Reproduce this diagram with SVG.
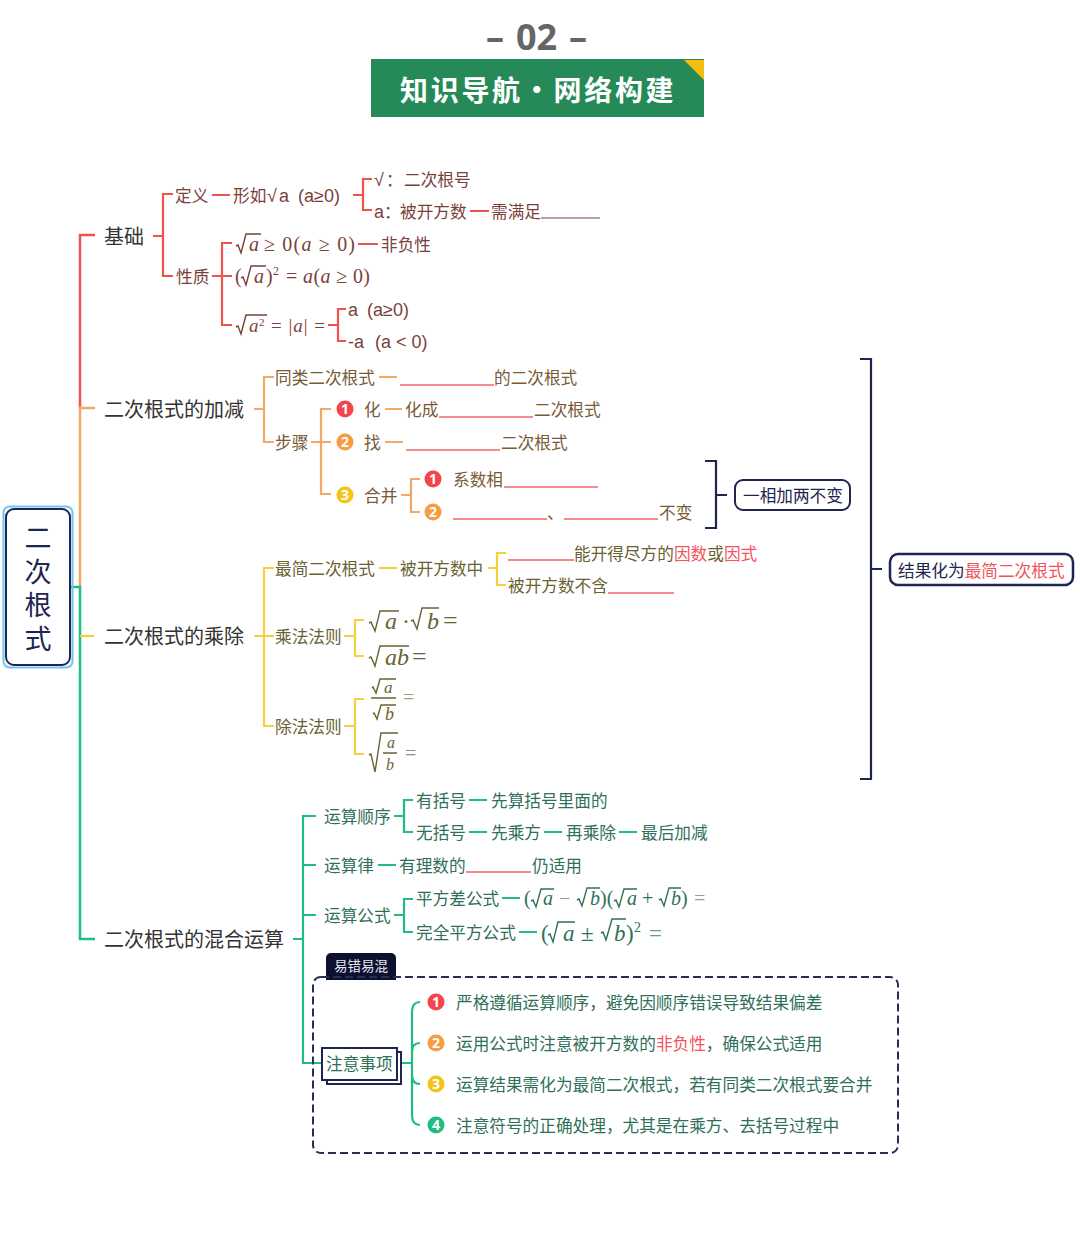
<svg xmlns="http://www.w3.org/2000/svg" width="1080" height="1246" viewBox="0 0 1080 1246">
<style>
text{font-family:"Liberation Sans","Noto Sans CJK SC",sans-serif;font-size:16.67px;transform:translate(0,.5px)}
.m{font-size:20px;fill:#333}
.la{font-size:18px}
.tr{fill:#7b3f3a}.to{fill:#7a5a36}.ty{fill:#696333}.tg{fill:#2f7058}.td{fill:#1d2550}.tx{fill:#f2545b}
.lr,.lo,.ly,.lg,.ld{fill:none;stroke-width:2.200}
.lr{stroke:#f0524c}.lo{stroke:#f4a868}.ly{stroke:#f5cf3c}.lg{stroke:#1fbd82}.ld{stroke:#1d2550}
.ul{stroke:#f2636a;stroke-width:1.400;fill:none}
.sr{fill:none;stroke-width:1.400}
.si{font-family:"Liberation Serif",serif;font-style:italic}
.s{font-family:"Liberation Serif",serif}
.b{font-family:"Noto Sans",sans-serif;font-size:14px;font-weight:700;fill:#fff;text-anchor:middle}
</style>
<rect width="1080" height="1246" fill="#fff"/>
<g id="title">
<text y="49" style="font-family:'Noto Sans',sans-serif;font-size:36px;font-weight:700" fill="#666"><tspan x="486">–</tspan><tspan x="516">02</tspan><tspan x="569">–</tspan></text>
<rect x="371" y="59" width="333" height="58" fill="#258a58"/>
<polygon points="684,60 704,60 704,80" fill="#f7bd0e"/>
<text x="400" y="100" style="font-family:'Noto Sans CJK SC',sans-serif;font-size:28px;font-weight:700;letter-spacing:2.700px" fill="#fff">知识导航·网络构建</text>
</g>
<g id="connectors">
<path class="lr" d="M95 235H80V408" style="stroke-width:2.500"/>
<path class="lo" d="M95 408H80V587" style="stroke-width:2.500"/>
<path class="lg" d="M70 587H80V939H95" style="stroke-width:2.500"/>
<path class="ly" d="M80 636H94"/>
<path class="lr" d="M153 236H163M173 194H163V276H173M212 195H230M353 195H363M372 179H363V210H372M470 211H489M212 276H232M232 243H222V325H232M358 244H378M328 325H338M346 309H338V341H346"/>
<path class="lo" d="M254 409H264M274 377H264V442H274M379 377H397M311 442H331M331 409H321V494H331M385 409H402M385 442H403M401 495H411M420 479H411V512H420"/>
<path class="ld" d="M705 461H716V528H705M716 495H727M860 359H871V779H860M871 569H882"/>
<path class="ly" d="M254 636H274M274 568H264V726H274M379 568H397M488 568H497M506 553H497V585H506M344 636H355M364 620H355V656H364M344 726H355M364 699H355V754H364"/>
<path class="lg" d="M293 939H303M316 816H303V1063H322M303 865H316M303 915H316M394 816H404M413 800H404V832H413M469 800H487M469 832H487M544 832H562M619 832H637M378 865H396M394 915H404M413 899H404V932H413M502 898H520M519 932H537"/>
<path class="lg" d="M401 1063H412M420 1002Q412 1002 412 1012V1115Q412 1125 420 1125M412 1052Q412 1043 420 1043M412 1075Q412 1084 420 1084"/>
</g>
<g id="root">
<rect x="3.500" y="506.500" width="69" height="161" rx="6" fill="none" stroke="#6cc5f2" stroke-width="2"/>
<rect x="6" y="509" width="64" height="156" rx="8" fill="#fff" stroke="#1d2550" stroke-width="2"/>
<text class="td" text-anchor="middle" style="font-size:27px"><tspan x="38" y="547">二</tspan><tspan x="38" y="581">次</tspan><tspan x="38" y="614">根</tspan><tspan x="38" y="648">式</tspan></text>
</g>
<g id="n-jichu"><text class="m" x="104" y="243">基础</text></g>
<g id="n-jiajian"><text class="m" x="104" y="416">二次根式的加减</text></g>
<g id="n-chengfa"><text class="m" x="104" y="643">二次根式的乘除</text></g>
<g id="n-hunhe"><text class="m" x="104" y="946">二次根式的混合运算</text></g>
<g id="basic">
<g id="n-dingyi"><text class="tr" x="175" y="201">定义</text></g>
<g id="n-xingru"><text class="tr" x="233" y="201">形如<tspan class="la" x="267">√</tspan><tspan class="la" x="279">a</tspan><tspan class="la" x="298">(a≥0)</tspan></text></g>
<g id="n-genhao"><text class="tr" x="374" y="185"><tspan class="la">√</tspan><tspan x="386">：</tspan><tspan x="404">二次根号</tspan></text></g>
<g id="n-beikai"><text class="tr" x="374" y="217"><tspan class="la">a</tspan><tspan x="384">：</tspan><tspan x="400">被开方数</tspan></text></g>
<g id="n-xuman"><text class="tr" x="491" y="217">需满足</text><path d="M541 218H600" stroke="#7b3f3a" stroke-width="1.200"/></g>
<g id="n-xingzhi"><text class="tr" x="176" y="282">性质</text></g>
<g id="f1"><path class="sr" stroke="#7b3f3a" d="M236 246l2-1 3 8 5-19H261"/><text class="si tr" x="249" y="250" style="font-size:20px">a</text><text class="s tr" x="264" y="250" style="font-size:20px" textLength="91" lengthAdjust="spacing">≥ 0(<tspan class="si">a</tspan> ≥ 0)</text></g>
<g id="n-feifu"><text class="tr" x="381" y="250">非负性</text></g>
<g id="f2"><text class="s tr" x="235" y="282" style="font-size:20px">(</text><path class="sr" stroke="#7b3f3a" d="M241 278l2-1 3 8 5-19H266"/><text class="si tr" x="254" y="282" style="font-size:20px">a</text><text class="s tr" x="266" y="282" style="font-size:20px">)</text><text class="s tr" x="273" y="274" style="font-size:12px">2</text><text class="s tr" x="286" y="282" style="font-size:20px" textLength="84" lengthAdjust="spacing">= <tspan class="si">a</tspan>(<tspan class="si">a</tspan> ≥ 0)</text></g>
<g id="f3"><path class="sr" stroke="#7b3f3a" d="M236 327l2-1 3 8 5-19H267"/><text class="si tr" x="249" y="331" style="font-size:19px">a</text><text class="s tr" x="259" y="325" style="font-size:11px">2</text><text class="s tr" x="271" y="331" style="font-size:19px" textLength="54" lengthAdjust="spacing">= |<tspan class="si">a</tspan>| =</text></g>
<g id="n-a1"><text class="tr la" x="348" y="315">a<tspan x="367">(a≥0)</tspan></text></g>
<g id="n-a2"><text class="tr la" x="348" y="347">-a<tspan x="375">(a &lt; 0)</tspan></text></g>
</g>
<g id="add">
<g id="n-tonglei"><text class="to" x="275" y="383">同类二次根式</text></g>
<g id="n-de"><path class="ul" d="M400 385H494"/><text class="to" x="494" y="383">的二次根式</text></g>
<g id="n-buzhou"><text class="to" x="275" y="448">步骤</text></g>
<g id="b1"><circle cx="345" cy="409" r="8.500" fill="#f4444c"/><text class="b" x="345" y="413.500">1</text></g>
<g id="n-hua"><text class="to" x="364" y="415">化</text></g>
<g id="n-huacheng"><text class="to" x="405" y="415">化成</text><path class="ul" d="M439 417H533"/><text class="to" x="534" y="415">二次根式</text></g>
<g id="b2"><circle cx="345" cy="442" r="8.500" fill="#f79c42"/><text class="b" x="345" y="446.500">2</text></g>
<g id="n-zhao"><text class="to" x="364" y="448">找</text></g>
<g id="n-zhao2"><path class="ul" d="M406 450H500"/><text class="to" x="501" y="448">二次根式</text></g>
<g id="b3"><circle cx="345" cy="495" r="8.500" fill="#f2c51a"/><text class="b" x="345" y="499.500">3</text></g>
<g id="n-hebing"><text class="to" x="364" y="501">合并</text></g>
<g id="b4"><circle cx="433" cy="479" r="8.500" fill="#f4444c"/><text class="b" x="433" y="483.500">1</text></g>
<g id="n-xishu"><text class="to" x="453" y="485">系数相</text><path class="ul" d="M504 487H598"/></g>
<g id="b5"><circle cx="433" cy="512" r="8.500" fill="#f79c42"/><text class="b" x="433" y="516.500">2</text></g>
<g id="n-bubian"><path class="ul" d="M453 519H547M564 519H658"/><text class="to" x="547" y="518">、</text><text class="to" x="659" y="518">不变</text></g>
<g id="n-yixiang"><rect x="735" y="480" width="115" height="30" rx="8" fill="#fff" stroke="#1d2550" stroke-width="2"/><text class="td" x="743" y="501">一相加两不变</text></g>
<g id="n-jieguo"><rect x="890" y="554" width="183" height="31" rx="8" fill="#fff" stroke="#1d2550" stroke-width="2.500"/><text class="td" x="898" y="576">结果化为<tspan class="tx">最简二次根式</tspan></text></g>
</g>
<g id="mul">
<g id="n-zuijian"><text class="ty" x="275" y="574">最简二次根式</text></g>
<g id="n-beikai2"><text class="ty" x="400" y="574">被开方数中</text></g>
<g id="n-nengkai"><path class="ul" d="M508 560H574"/><text class="ty" x="574" y="559">能开得尽方的<tspan class="tx">因数</tspan>或<tspan class="tx">因式</tspan></text></g>
<g id="n-buhan"><text class="ty" x="508" y="591">被开方数不含</text><path class="ul" d="M608 593H674"/></g>
<g id="n-chengze"><text class="ty" x="275" y="642">乘法法则</text></g>
<g id="n-chuze"><text class="ty" x="275" y="732">除法法则</text></g>
<g id="f4"><path class="sr" stroke="#696333" d="M369 623l2-1 4 9 5-20H399M411 621l2-1 4 9 5-21H439"/><text class="si ty" x="385" y="628" style="font-size:24px">a</text><text class="s ty" x="402" y="628" style="font-size:24px">·</text><text class="si ty" x="427" y="628" style="font-size:24px">b</text><text class="s ty" x="443" y="628" style="font-size:26px">=</text></g>
<g id="f5"><path class="sr" stroke="#696333" d="M369 658l2-1 4 9 5-20H409"/><text class="si ty" x="385" y="664" style="font-size:24px">ab</text><text class="s ty" x="412" y="664" style="font-size:26px">=</text></g>
<g id="f6"><path class="sr" stroke="#696333" d="M372 688l1-1 3 6 4-14H396M373 714l1-1 3 6 4-14H396M371 698H396"/><text class="si ty" x="384" y="692" style="font-size:17px">a</text><text class="si ty" x="385" y="719" style="font-size:18px">b</text><text class="s ty" x="403" y="703" style="font-size:20px;opacity:.6">=</text></g>
<g id="f7"><path class="sr" stroke="#696333" d="M369 755l2-1 4 18 6-39H398M383 753H397"/><text class="si ty" x="387" y="747" style="font-size:16px">a</text><text class="si ty" x="386" y="769" style="font-size:16px">b</text><text class="s ty" x="405" y="759" style="font-size:20px;opacity:.7">=</text></g>
</g>
<g id="mix">
<g id="n-shunxu"><text class="tg" x="324" y="822">运算顺序</text></g>
<g id="n-youkh"><text class="tg" x="416" y="806">有括号</text></g>
<g id="n-xiansuan"><text class="tg" x="491" y="806">先算括号里面的</text></g>
<g id="n-wukh"><text class="tg" x="416" y="838">无括号</text></g>
<g id="n-xiancheng"><text class="tg" x="491" y="838">先乘方</text></g>
<g id="n-zaicheng"><text class="tg" x="566" y="838">再乘除</text></g>
<g id="n-zuihou"><text class="tg" x="641" y="838">最后加减</text></g>
<g id="n-yunsuanlv"><text class="tg" x="324" y="871">运算律</text></g>
<g id="n-youli"><text class="tg" x="399" y="871">有理数的</text><path class="ul" d="M466 872H531"/><text class="tg" x="532" y="871">仍适用</text></g>
<g id="n-gongshi"><text class="tg" x="324" y="921">运算公式</text></g>
<g id="n-pingfangcha"><text class="tg" x="416" y="904">平方差公式</text></g>
<g id="f8"><path class="sr" stroke="#2f7058" d="M531 901l2-1 3 7 5-18H554M577 900l2-1 3 7 5-18H600M614 901l2-1 3 7 5-18H637M659 900l2-1 3 7 5-18H681"/><text class="s tg" x="524" y="904" style="font-size:20px">(</text><text class="si tg" x="543" y="904" style="font-size:20px">a</text><text class="s tg" x="559" y="904" style="font-size:20px;opacity:.6">−</text><text class="si tg" x="590" y="904" style="font-size:20px">b</text><text class="s tg" x="600" y="904" style="font-size:20px">)(</text><text class="si tg" x="627" y="904" style="font-size:20px">a</text><text class="s tg" x="642" y="904" style="font-size:20px">+</text><text class="si tg" x="671" y="904" style="font-size:20px">b</text><text class="s tg" x="681" y="904" style="font-size:20px">)</text><text class="s tg" x="694" y="904" style="font-size:20px;opacity:.6">=</text></g>
<g id="n-wanquan"><text class="tg" x="416" y="938">完全平方公式</text></g>
<g id="f9"><path class="sr" stroke="#2f7058" d="M548 935l2-1 3 8 5-20H575M601 933l2-1 3 8 6-21H626"/><text class="s tg" x="541" y="940" style="font-size:23px">(</text><text class="si tg" x="563" y="940" style="font-size:23px">a</text><text class="s tg" x="581" y="940" style="font-size:23px">±</text><text class="si tg" x="614" y="940" style="font-size:23px">b</text><text class="s tg" x="626" y="940" style="font-size:23px">)</text><text class="s tg" x="634" y="931" style="font-size:14px">2</text><text class="s tg" x="649" y="940" style="font-size:23px;opacity:.7">=</text></g>
<g id="n-yicuo"><path d="M326 980V958a5 5 0 0 1 5-5H391a5 5 0 0 1 5 5V980Z" fill="#0d1030"/><text x="334" y="970" style="font-size:13.500px" fill="#e8e8ee">易错易混</text></g>
<g id="frame"><rect x="313" y="977" width="585" height="176" rx="8" fill="none" stroke="#2a2d52" stroke-width="2" stroke-dasharray="8 4"/></g>
<g id="n-zhuyi"><rect x="327" y="1052" width="74" height="32" fill="#fff" stroke="#1d2550" stroke-width="2"/><rect x="322" y="1048" width="75" height="32" fill="#fff" stroke="#1d2550" stroke-width="2"/><text class="tg" x="326" y="1069">注意事项</text></g>
<g id="note1"><circle cx="436" cy="1002" r="8.500" fill="#f4444c"/><text class="b" x="436" y="1006.500">1</text><text class="tg" x="456" y="1008">严格遵循运算顺序，避免因顺序错误导致结果偏差</text></g>
<g id="note2"><circle cx="436" cy="1043" r="8.500" fill="#f79c42"/><text class="b" x="436" y="1047.500">2</text><text class="tg" x="456" y="1049">运用公式时注意被开方数的<tspan class="tx">非负性</tspan>，确保公式适用</text></g>
<g id="note3"><circle cx="436" cy="1084" r="8.500" fill="#f2c51a"/><text class="b" x="436" y="1088.500">3</text><text class="tg" x="456" y="1090">运算结果需化为最简二次根式，若有同类二次根式要合并</text></g>
<g id="note4"><circle cx="436" cy="1125" r="8.500" fill="#1fbd82"/><text class="b" x="436" y="1129.500">4</text><text class="tg" x="456" y="1131">注意符号的正确处理，尤其是在乘方、去括号过程中</text></g>
</g>
</svg>
